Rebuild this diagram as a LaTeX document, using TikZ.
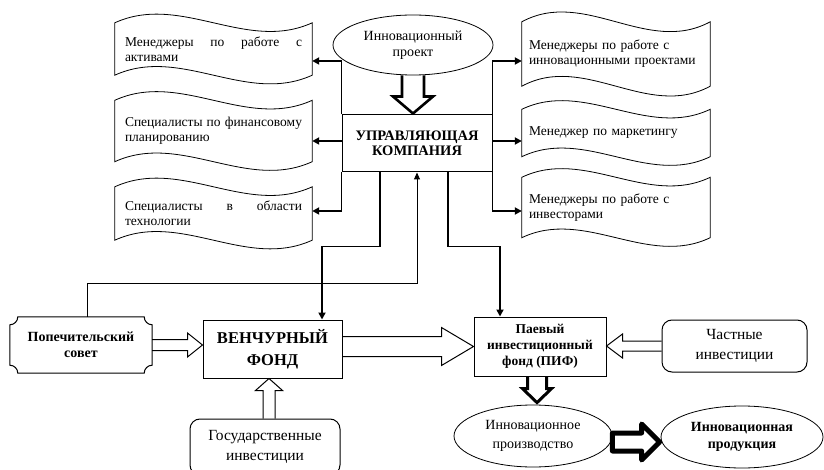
\documentclass[tikz,border=0pt]{standalone}
\usepackage{fontspec}
\setmainfont{Liberation Serif}
\usetikzlibrary{shapes.geometric,arrows.meta,calc}
\newcommand\drawflag[2]{\draw[line width=0.8pt] let \p1=(#1.south west), \p2=(#1.north east), \n1={(\x2-\x1)/3} in
 (\x1,\y2) .. controls (\x1+\n1,\y2+#2) and (\x2-\n1,\y2-#2) .. (\x2,\y2) -- (\x2,\y1)
 .. controls (\x2-\n1,\y1-#2) and (\x1+\n1,\y1+#2) .. (\x1,\y1) -- cycle;}
\begin{document}
\begin{tikzpicture}[x=1pt,y=-1pt,
 conn/.style={line width=1.8pt,-{Triangle[length=7pt,width=7pt]}},
 thinconn/.style={line width=1pt,-{Triangle[length=7pt,width=6pt]}},
 flag/.style={inner sep=0pt,font=\fontsize{13.5}{15}\selectfont},
 box/.style={draw,line width=1pt,inner sep=0pt,align=center},
 oval/.style={draw,fill=white,ellipse,inner sep=0pt,align=center,line width=0.8pt},
 blk/.style={draw,line width=1pt,line join=miter}]
\useasboundingbox (0,0) rectangle (824,470);

% central box
\node[box,minimum width=150pt,minimum height=57pt,font=\bfseries\fontsize{14.5}{15.5}\selectfont] (uk) at (417,143.5) {УПРАВЛЯЮЩАЯ\\КОМПАНИЯ};

% left flags
\node[flag,minimum width=197pt,minimum height=52pt,text width=177pt,align=left] (l1) at (213.5,49) {\makebox[177pt][l]{Менеджеры\hfill по\hfill работе\hfill с}\\активами};
\node[flag,minimum width=197pt,minimum height=61pt,text width=177pt,align=left] (l2) at (213.5,131) {\makebox[177pt][l]{Специалисты\hfill по\hfill финансовому}\\планированию};
\node[flag,minimum width=197pt,minimum height=53pt,text width=177pt,align=left] (l3) at (213.5,213.5) {\makebox[177pt][l]{Специалисты\hfill в\hfill области}\\технологии};
\drawflag{l1}{30pt}
\drawflag{l2}{30pt}
\drawflag{l3}{30pt}

% right flags
\node[flag,minimum width=188pt,minimum height=64pt,text width=174pt,align=left] (r1) at (616,54) {Менеджеры по работе с\\инновационными проектами};
\node[flag,minimum width=188pt,minimum height=47pt,text width=174pt,align=left] (r2) at (616,133) {Менеджер по маркетингу};
\node[flag,minimum width=188pt,minimum height=60pt,text width=174pt,align=left] (r3) at (616,207.5) {Менеджеры по работе с\\инвесторами};
\drawflag{r1}{34pt}
\drawflag{r2}{30pt}
\drawflag{r3}{30pt}

\coordinate (t1) at (0,61);
\coordinate (t2) at (0,141);
\coordinate (t3) at (0,211);

% connectors from the management company
\draw[conn] (uk.north west) |- (l1.east |- t1);
\draw[conn] (uk.west |- t2) -- (l2.east |- t2);
\draw[conn] (uk.south west) |- (l3.east |- t3);
\draw[conn] (uk.north east) |- (r1.west |- t1);
\draw[conn] (uk.east |- t2) -- (r2.west |- t2);
\draw[conn] (uk.south east) |- (r3.west |- t3);

% project ellipse
\node[oval,minimum width=160pt,minimum height=60pt,font=\fontsize{14}{16}\selectfont] (ip) at (413,45) {Инновационный\\проект};

% lower boxes
\node[box,minimum width=139pt,minimum height=58pt,font=\bfseries\fontsize{16.5}{22}\selectfont] (vf) at (272.5,349) {ВЕНЧУРНЫЙ\\ФОНД};
\node[box,minimum width=132pt,minimum height=59pt,font=\bfseries\fontsize{13.5}{16}\selectfont] (pif) at (540,346.5) {Паевый\\инвестиционный\\фонд (ПИФ)};
\node[inner sep=0pt,minimum width=142pt,minimum height=56pt,align=center,font=\bfseries\fontsize{14}{16}\selectfont] (pop) at (81,345) {Попечительский\\совет};
\draw[line width=1pt] let \p1=(pop.south west), \p2=(pop.north east) in
 (\x1+8pt,\y2) -- (\x2-8pt,\y2) arc[start angle=180,end angle=270,radius=8pt]
 -- (\x2,\y1+8pt) arc[start angle=90,end angle=180,radius=8pt]
 -- (\x1+8pt,\y1) arc[start angle=0,end angle=90,radius=8pt]
 -- (\x1,\y2-8pt) arc[start angle=270,end angle=360,radius=8pt] -- cycle;
\node[box,rounded corners=10pt,minimum width=150pt,minimum height=56pt,font=\fontsize{15.5}{20}\selectfont] (gos) at (265,447) {Государственные\\инвестиции};
\node[box,rounded corners=10pt,minimum width=145pt,minimum height=52pt,font=\fontsize{15.5}{20}\selectfont] (chast) at (734.5,346) {Частные\\инвестиции};
\node[oval,minimum width=158pt,minimum height=62pt,font=\fontsize{14}{19}\selectfont] (prod) at (533,436) {Инновационное\\производство};
\node[oval,minimum width=162pt,minimum height=62pt,font=\bfseries\fontsize{14}{17}\selectfont] (produkt) at (742,437) {Инновационная\\продукция};

% line connectors to funds
\draw[conn] ([xshift=-37pt]uk.south) -- ++(0,74) -| ([xshift=49.5pt]vf.north);
\draw[conn] ([xshift=31pt]uk.south) -- ++(0,74) -| ([xshift=-40pt]pif.north);
\draw[thinconn] ([xshift=6pt]pop.north) -- ++(0,-33) -| (uk.south);

% block arrows
\draw[blk,line width=2.6pt] let \p1=(ip.south), \p2=(uk.north) in
 (\x1-11pt,\y1) -- (\x1-11pt,\y2+18pt) -- (\x1-20pt,\y2+18pt) -- (\x1,\y2+1pt)
 -- (\x1+20pt,\y2+18pt) -- (\x1+11pt,\y2+18pt) -- (\x1+11pt,\y1);
\draw[blk] let \p1=(pop.east), \p2=(vf.west) in
 (\x1,\y1+5.5pt) -- (\x2-15pt,\y1+5.5pt) -- (\x2-15pt,\y1+12pt) -- (\x2,\y1)
 -- (\x2-15pt,\y1-12pt) -- (\x2-15pt,\y1-5.5pt) -- (\x1,\y1-5.5pt);
\draw[blk] let \p1=(gos.north), \p2=(vf.south) in
 (\x1-2pt,\y1) -- (\x1-2pt,\y2-12pt) -- (\x1-9.5pt,\y2-12pt) -- (\x1+4pt,\y2)
 -- (\x1+17.5pt,\y2-12pt) -- (\x1+10pt,\y2-12pt) -- (\x1+10pt,\y1);
\draw[blk] let \p1=(vf.east), \p2=(pif.west) in
 (\x1,\y2+10pt) -- (\x2-32pt,\y2+10pt) -- (\x2-32pt,\y2+19pt) -- (\x2,\y2)
 -- (\x2-32pt,\y2-19pt) -- (\x2-32pt,\y2-10pt) -- (\x1,\y2-10pt);
\draw[blk] let \p1=(chast.west), \p2=(pif.east) in
 (\x1,\y1+5pt) -- (\x2+16pt,\y1+5pt) -- (\x2+16pt,\y1+12pt) -- (\x2,\y1)
 -- (\x2+16pt,\y1-12pt) -- (\x2+16pt,\y1-5pt) -- (\x1,\y1-5pt);
\draw[blk,line width=3pt] let \p1=(pif.south), \p2=(prod.north) in
 (\x1-12.5pt,\y1) -- (\x1-12.5pt,\y2+16pt) -- (\x1-17.5pt,\y2+16pt) -- (\x1-3pt,\y2+2pt)
 -- (\x1+11.5pt,\y2+16pt) -- (\x1+6.5pt,\y2+16pt) -- (\x1+6.5pt,\y1);
\draw[blk,line width=5pt,line join=round] let \p1=(prod.east), \p2=(produkt.west) in
 (\x1,\y1-15pt) -- (\x2-19pt,\y1-15pt) -- (\x2-19pt,\y1-24pt) -- (\x2-1pt,\y1-6pt)
 -- (\x2-19pt,\y1+12pt) -- (\x2-19pt,\y1+3pt) -- (\x1,\y1+3pt) -- cycle;
\end{tikzpicture}
\end{document}
